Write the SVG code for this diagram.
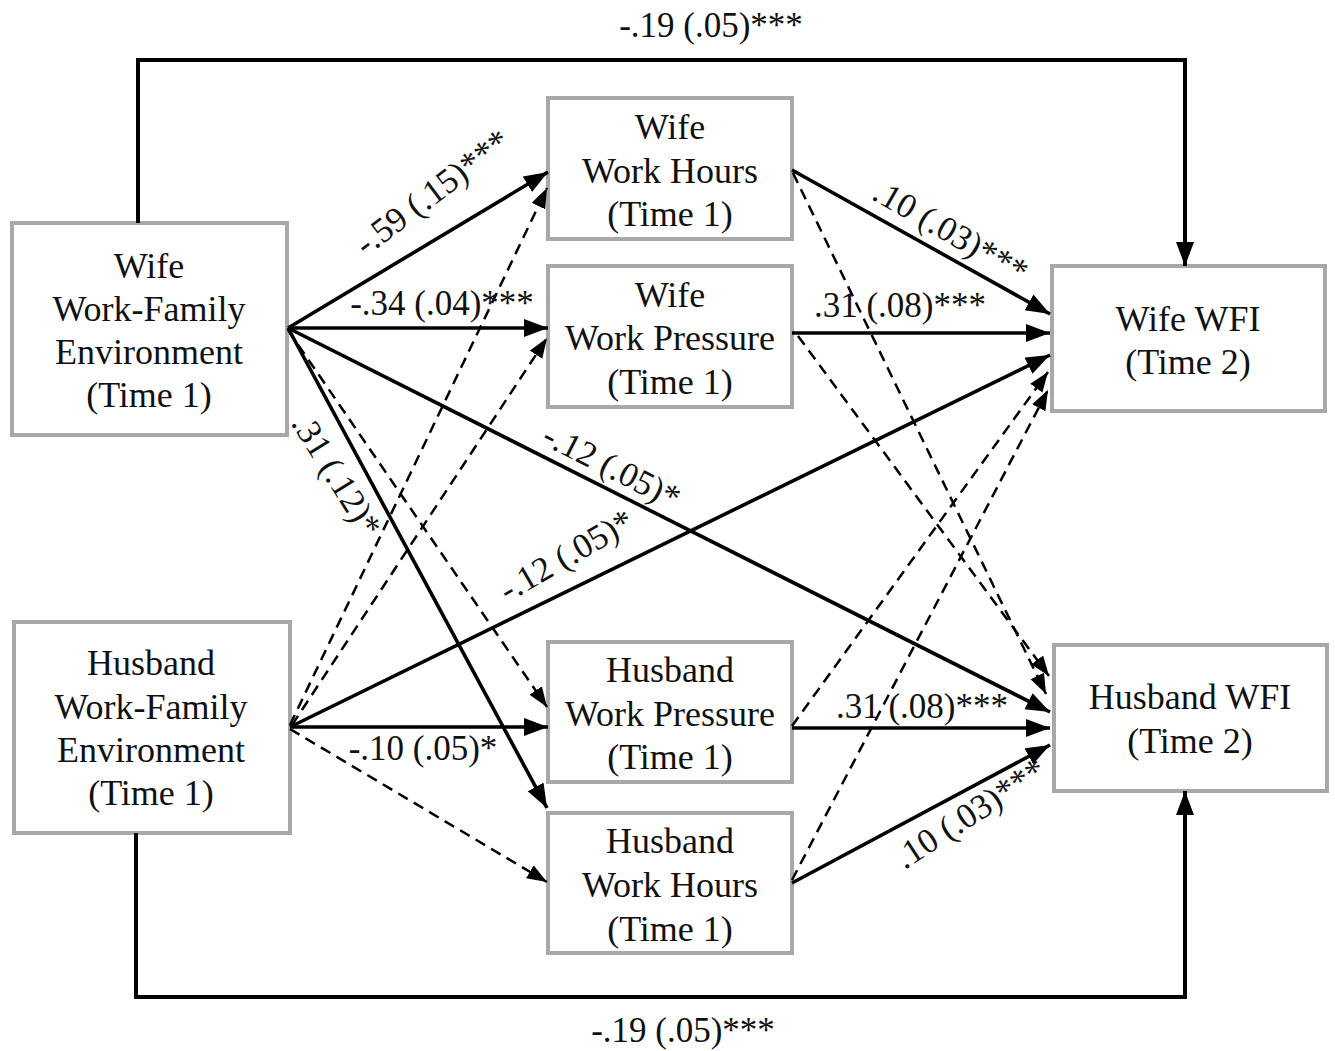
<svg xmlns="http://www.w3.org/2000/svg" width="1335" height="1051" viewBox="0 0 1335 1051">
<style>
.box{fill:#fff;stroke:#a8a8a8;stroke-width:4}
.t{font-family:"Liberation Serif","Times New Roman",serif;font-size:36px;fill:#111;text-anchor:middle}
.lb{font-family:"Liberation Serif","Times New Roman",serif;font-size:35px;fill:#111;text-anchor:middle}
.s{fill:none;stroke:#000;stroke-width:3.6}
.d{fill:none;stroke:#000;stroke-width:2.5;stroke-dasharray:11 7}
.o{fill:none;stroke:#000;stroke-width:4}
</style>
<defs>
<marker id="ah" markerUnits="userSpaceOnUse" markerWidth="26" markerHeight="20" refX="24" refY="9" orient="auto">
<path d="M0,0 L24,9 L0,18 z" fill="#000"/>
</marker>
<marker id="ahd" markerUnits="userSpaceOnUse" markerWidth="22" markerHeight="16" refX="20" refY="7.5" orient="auto">
<path d="M0,0 L20,7.5 L0,15 z" fill="#000"/>
</marker>
</defs>
<rect width="1335" height="1051" fill="#fff"/>

<g id="wife-wfe"><rect class="box" x="12" y="223" width="275" height="212"/>
<text class="t" x="149" y="278">Wife</text><text class="t" x="149" y="321">Work-Family</text><text class="t" x="149" y="364">Environment</text><text class="t" x="149" y="407">(Time 1)</text></g>
<g id="husband-wfe"><rect class="box" x="14" y="622" width="276" height="211"/>
<text class="t" x="151" y="675">Husband</text><text class="t" x="151" y="719">Work-Family</text><text class="t" x="151" y="762">Environment</text><text class="t" x="151" y="805">(Time 1)</text></g>
<g id="wife-hours"><rect class="box" x="548" y="98" width="244" height="141"/>
<text class="t" x="670" y="139">Wife</text><text class="t" x="670" y="183">Work Hours</text><text class="t" x="670" y="226">(Time 1)</text></g>
<g id="wife-pressure"><rect class="box" x="548" y="266" width="244" height="141"/>
<text class="t" x="670" y="307">Wife</text><text class="t" x="670" y="350">Work Pressure</text><text class="t" x="670" y="394">(Time 1)</text></g>
<g id="husband-pressure"><rect class="box" x="548" y="642" width="244" height="140"/>
<text class="t" x="670" y="682">Husband</text><text class="t" x="670" y="726">Work Pressure</text><text class="t" x="670" y="769">(Time 1)</text></g>
<g id="husband-hours"><rect class="box" x="548" y="813" width="244" height="140"/>
<text class="t" x="670" y="853">Husband</text><text class="t" x="670" y="897">Work Hours</text><text class="t" x="670" y="941">(Time 1)</text></g>
<g id="wife-wfi"><rect class="box" x="1052" y="266" width="273" height="145"/>
<text class="t" x="1188" y="331">Wife WFI</text><text class="t" x="1188" y="374">(Time 2)</text></g>
<g id="husband-wfi"><rect class="box" x="1054" y="645" width="273" height="146"/>
<text class="t" x="1190" y="709">Husband WFI</text><text class="t" x="1190" y="753">(Time 2)</text></g>

<g id="connectors">
<path class="o" d="M138,223 V60 H1185 V266" marker-end="url(#ah)"/>
<path class="o" d="M136,833 V997 H1185 V791" marker-end="url(#ah)"/>
<path class="s" d="M288,328 L548,172" marker-end="url(#ah)"/>
<path class="s" d="M288,328 L548,328" marker-end="url(#ah)"/>
<path class="s" d="M288,328 L1050,712" marker-end="url(#ah)"/>
<path class="s" d="M288,328 L547,808" marker-end="url(#ah)"/>
<path class="s" d="M290,727 L1050,355" marker-end="url(#ah)"/>
<path class="s" d="M290,727 L548,727" marker-end="url(#ah)"/>
<path class="s" d="M792,170 L1050,314" marker-end="url(#ah)"/>
<path class="s" d="M792,333 L1050,333" marker-end="url(#ah)"/>
<path class="s" d="M792,728 L1050,728" marker-end="url(#ah)"/>
<path class="s" d="M792,883 L1050,745" marker-end="url(#ah)"/>
<path class="d" d="M288,330 L547,707" marker-end="url(#ahd)"/>
<path class="d" d="M290,725 L547,188" marker-end="url(#ahd)"/>
<path class="d" d="M292,725 L547,338" marker-end="url(#ahd)"/>
<path class="d" d="M290,729 L547,882" marker-end="url(#ahd)"/>
<path class="d" d="M793,173 L1046,694" marker-end="url(#ahd)"/>
<path class="d" d="M798,336 L1049,676" marker-end="url(#ahd)"/>
<path class="d" d="M792,726 L1048,372" marker-end="url(#ahd)"/>
<path class="d" d="M792,880 L1048,390" marker-end="url(#ahd)"/>
</g>

<g id="labels">
<text class="lb" x="711" y="37">-.19 (.05)***</text>
<text class="lb" x="683" y="1042">-.19 (.05)***</text>
<text class="lb" transform="translate(432,192) rotate(-37)" y="12">-.59 (.15)***</text>
<text class="lb" x="442" y="315">-.34 (.04)***</text>
<text class="lb" transform="translate(337,475) rotate(58)" y="12">.31 (.12)*</text>
<text class="lb" transform="translate(612,466) rotate(27)" y="12">-.12 (.05)*</text>
<text class="lb" transform="translate(566,555) rotate(-30)" y="12">-.12 (.05)*</text>
<text class="lb" x="423" y="760">-.10 (.05)*</text>
<text class="lb" transform="translate(951,231) rotate(30)" y="12">.10 (.03)***</text>
<text class="lb" x="900" y="317">.31 (.08)***</text>
<text class="lb" x="922" y="718">.31 (.08)***</text>
<text class="lb" transform="translate(970,813) rotate(-33)" y="12">.10 (.03)***</text>
</g>
</svg>
